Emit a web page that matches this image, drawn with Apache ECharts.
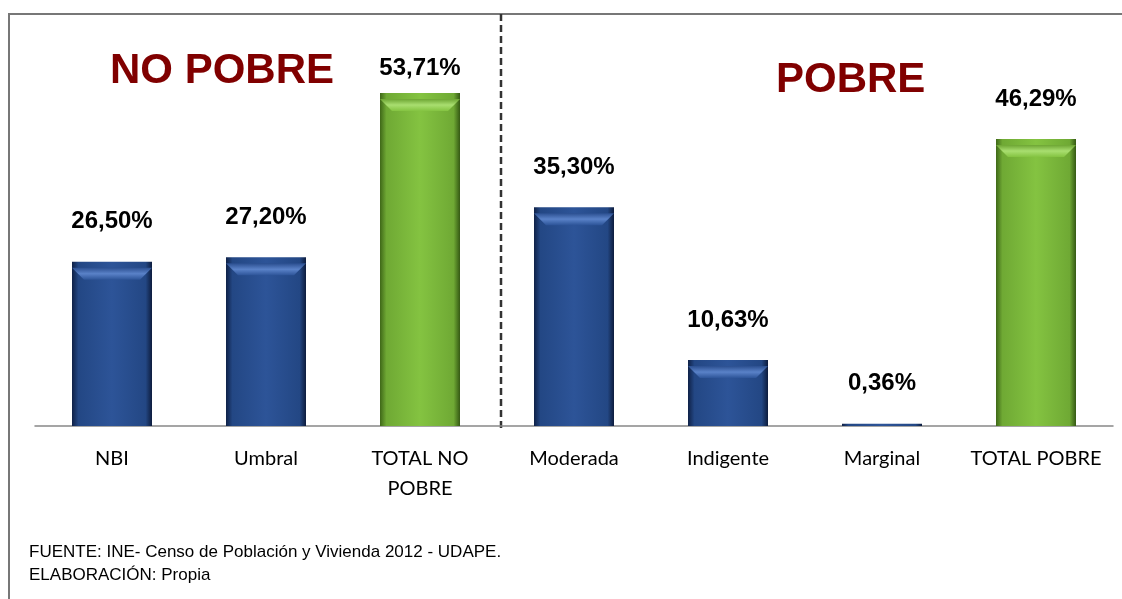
<!DOCTYPE html>
<html>
<head>
<meta charset="utf-8">
<script src="https://cdn.jsdelivr.net/npm/echarts@6/dist/echarts.min.js"></script>
<style>
  html, body { margin: 0; padding: 0; background: #fff; }
  #main { width: 1122px; height: 599px; }
</style>
</head>
<body>
<div id="main"></div>
<script>
// categorias y valores (%)
var categorias = ['NBI', 'Umbral', 'TOTAL NO\nPOBRE', 'Moderada', 'Indigente', 'Marginal', 'TOTAL POBRE'];
var valores = [26.50, 27.20, 53.71, 35.30, 10.63, 0.36, 46.29];
var esTotal = [false, false, true, false, false, false, true];

var azul = new echarts.graphic.LinearGradient(0, 0, 1, 0, [
  {offset: 0, color: '#0f2147'},
  {offset: 0.08, color: '#234784'},
  {offset: 0.5, color: '#2d5498'},
  {offset: 0.92, color: '#234784'},
  {offset: 1, color: '#0d1c3d'}
]);
var verde = new echarts.graphic.LinearGradient(0, 0, 1, 0, [
  {offset: 0, color: '#3f6818'},
  {offset: 0.08, color: '#6fa934'},
  {offset: 0.5, color: '#84c341'},
  {offset: 0.92, color: '#6fa934'},
  {offset: 1, color: '#355914'}
]);
// bisel superior
var azulBisel = new echarts.graphic.LinearGradient(0, 0, 0, 1, [
  {offset: 0, color: '#2b4f90'},
  {offset: 0.5, color: '#5a82c8'},
  {offset: 1, color: '#2d5498'}
]);
var verdeBisel = new echarts.graphic.LinearGradient(0, 0, 0, 1, [
  {offset: 0, color: '#6da533'},
  {offset: 0.5, color: '#a9de70'},
  {offset: 1, color: '#84c341'}
]);

var datos = valores.map(function (v, i) {
  return {
    value: v,
    itemStyle: {color: esTotal[i] ? verde : azul},
    label: {distance: v > 50 ? 13 : 28}
  };
});
var bisel = valores.map(function (v, i) {
  return {
    value: v,
    symbol: v < 3 ? 'none' : 'path://M0,0 L80,0 L68,12 L12,12 Z',
    itemStyle: {color: esTotal[i] ? verdeBisel : azulBisel}
  };
});

var myChart = echarts.init(document.getElementById('main'));
myChart.setOption({
  animation: false,
  backgroundColor: '#fff',
  grid: {left: 35, right: 9, top: 54, bottom: 173},
  xAxis: {
    type: 'category',
    data: categorias,
    axisLine: {lineStyle: {color: '#888', width: 1.5}},
    axisTick: {show: false},
    axisLabel: {
      color: '#000',
      fontFamily: 'Lato',
      fontSize: 20,
      lineHeight: 30,
      margin: 18,
      interval: 0
    }
  },
  yAxis: {
    type: 'value',
    min: 0,
    max: 60,
    show: false
  },
  series: [{
    type: 'bar',
    barWidth: 80,
    data: datos,
    z: 2,
    label: {
      show: true,
      position: 'top',
      color: '#000',
      fontFamily: 'Liberation Sans, Arial',
      fontWeight: 'bold',
      fontSize: 24,
      formatter: function (p) {
        return p.value.toFixed(2).replace('.', ',') + '%';
      }
    }
  }, {
    type: 'pictorialBar',
    data: bisel,
    symbolSize: [80, 12],
    symbolPosition: 'end',
    symbolOffset: [0, '50%'],
    z: 3,
    silent: true
  }],
  graphic: [
    // marco
    {type: 'rect', shape: {x: 9, y: 14, width: 1200, height: 700}, style: {fill: 'none', stroke: '#777', lineWidth: 2}, silent: true},
    // separador
    {type: 'line', shape: {x1: 501, y1: 14, x2: 501, y2: 430}, style: {stroke: '#333', lineWidth: 2.5, lineDash: [7, 4]}, silent: true},
    {type: 'text', left: 110, top: 50, style: {text: 'NO POBRE', fill: '#800000', font: 'bold 42px "Liberation Sans", Arial'}},
    {type: 'text', left: 776, top: 59, style: {text: 'POBRE', fill: '#800000', font: 'bold 42px "Liberation Sans", Arial'}},
    {type: 'text', left: 29, top: 541, style: {text: 'FUENTE: INE- Censo de Población y Vivienda 2012 - UDAPE.\nELABORACIÓN: Propia', fill: '#000', font: '17px "Liberation Sans", Arial', lineHeight: 23}}
  ]
});
</script>
</body>
</html>
